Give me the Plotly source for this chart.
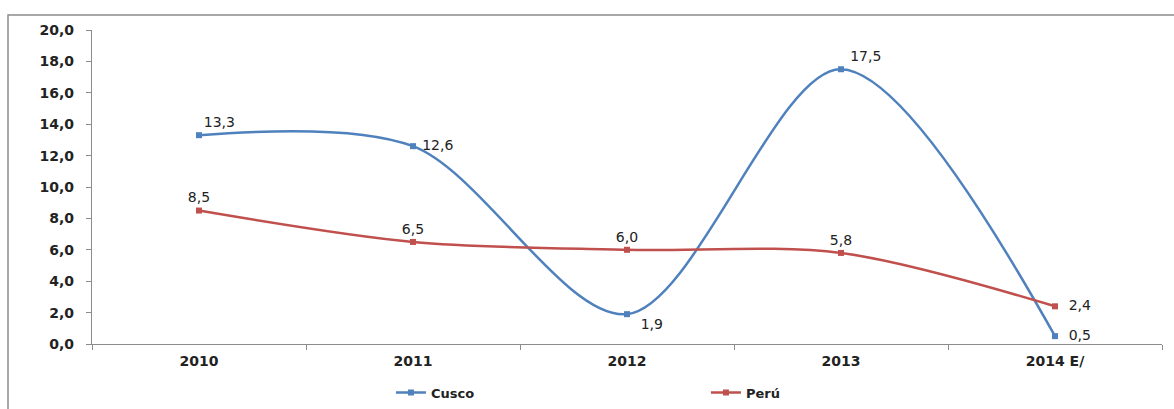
import plotly.graph_objects as go

categories = ["2010", "2011", "2012", "2013", "2014 E/"]
cusco = [13.3, 12.6, 1.9, 17.5, 0.5]
peru = [8.5, 6.5, 6.0, 5.8, 2.4]
cusco_pos = ["top right", "middle right", "bottom right", "top right", "middle right"]
cusco_pad = ["", " ", "  ", " ", "  "]
peru_pos = ["top center", "top center", "top center", "top center", "middle right"]
peru_pad = ["", "", "", "", "  "]

def fmt(v):
    return f"{v:.1f}".replace(".", ",")

fig = go.Figure()
fig.add_trace(go.Scatter(
    x=categories, y=cusco, name="Cusco", mode="lines+markers+text",
    line=dict(color="#4F81BD", width=2.5, shape="spline", smoothing=0.9),
    marker=dict(symbol="square", size=6, color="#4F81BD"),
    text=[p + fmt(v) for p, v in zip(cusco_pad, cusco)], textposition=cusco_pos,
    textfont=dict(family="DejaVu Sans", size=14, color="#222"),
    cliponaxis=False,
))
fig.add_trace(go.Scatter(
    x=categories, y=peru, name="Perú", mode="lines+markers+text",
    line=dict(color="#C0504D", width=2.5, shape="spline", smoothing=0.9),
    marker=dict(symbol="square", size=6, color="#C0504D"),
    text=[p + fmt(v) for p, v in zip(peru_pad, peru)], textposition=peru_pos,
    textfont=dict(family="DejaVu Sans", size=14, color="#222"),
    cliponaxis=False,
))

fig.update_layout(
    width=1174, height=409,
    margin=dict(l=92, r=12, t=30, b=65),
    plot_bgcolor="white", paper_bgcolor="white",
    separators=",.",
    showlegend=True,
    legend=dict(orientation="h", xref="container", yref="container",
                x=0.333, xanchor="left", y=0.077, yanchor="top",
                font=dict(family="DejaVu Sans", size=13, color="#222", weight="bold"),
                entrywidth=270, entrywidthmode="pixels"),
    font=dict(family="DejaVu Sans", color="#222"),
    shapes=[dict(type="rect", xref="paper", yref="paper",
                 x0=-0.0785, x1=1.05, y0=-0.5, y1=1.048,
                 line=dict(color="#8c8c8c", width=1.5), fillcolor="rgba(0,0,0,0)")],
)
fig.update_xaxes(
    type="category", range=[-0.5, 4.5], automargin=False,
    showline=True, linecolor="#8c8c8c", linewidth=1.2,
    ticks="outside", tickson="boundaries", ticklen=5, tickcolor="#8c8c8c",
    ticklabelstandoff=4,
    showgrid=False, tickfont=dict(family="DejaVu Sans", size=14, color="#222", weight="bold"),
)
fig.update_yaxes(
    range=[0, 20], dtick=2, tickformat=".1f", automargin=False,
    showline=True, linecolor="#8c8c8c", linewidth=1.2,
    ticks="outside", ticklen=5, tickcolor="#8c8c8c", showgrid=False, zeroline=False,
    ticklabelstandoff=9,
    tickfont=dict(family="DejaVu Sans", size=14, color="#222", weight="bold"),
)
fig.write_html("out.html", config={"responsive": False, "displayModeBar": False},
               post_script="document.body.style.margin='0px';document.body.style.overflow='hidden';")
